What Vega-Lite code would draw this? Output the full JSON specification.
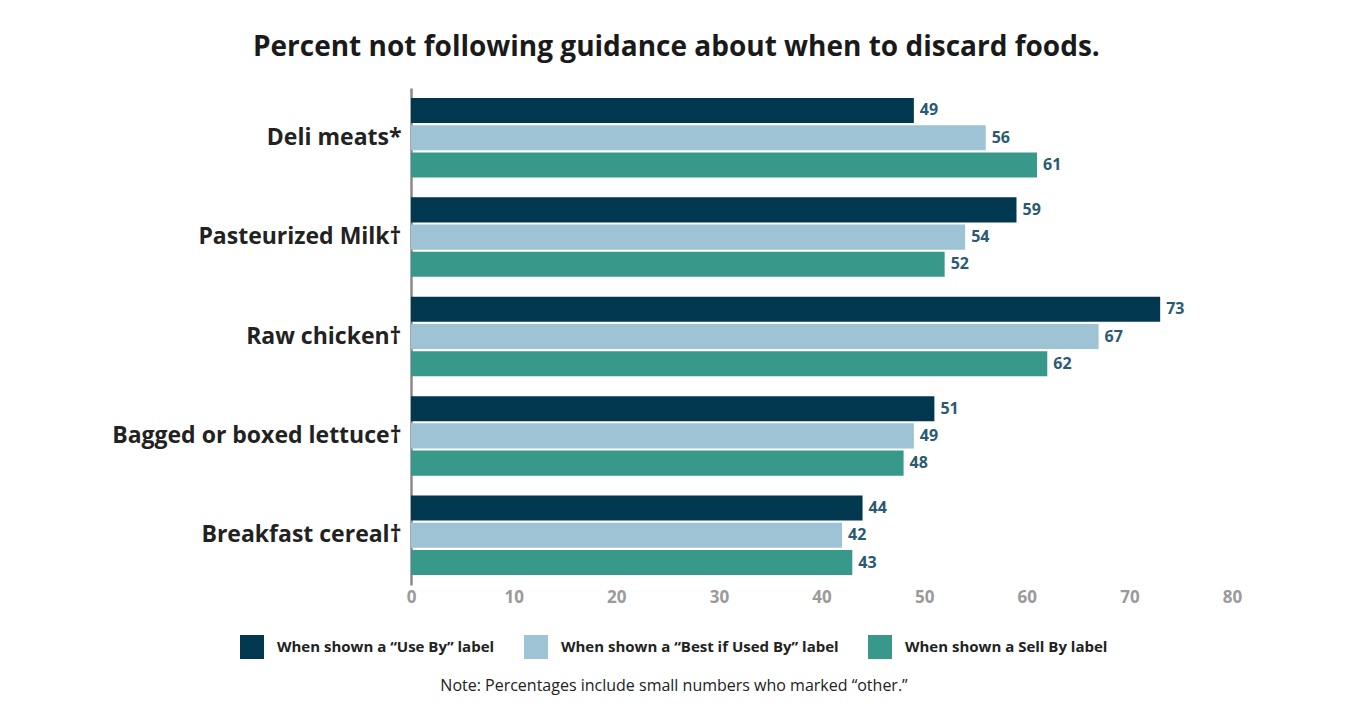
{
  "$schema": "https://vega.github.io/schema/vega-lite/v6.json",
  "width": 821,
  "height": 497,
  "padding": {"left": 111, "top": 34, "right": 10, "bottom": 5},
  "background": "white",
  "title": {
    "text": "Percent not following guidance about when to discard foods.",
    "font": "Open Sans",
    "fontSize": 28,
    "fontWeight": "bold",
    "color": "#1a1a1a",
    "anchor": "middle",
    "frame": "bounds",
    "offset": 26
  },
  "data": {
    "values": [
      {"food": "Deli meats*", "series": "When shown a “Use By” label", "value": 49},
      {"food": "Deli meats*", "series": "When shown a “Best if Used By” label", "value": 56},
      {"food": "Deli meats*", "series": "When shown a Sell By label", "value": 61},
      {"food": "Pasteurized Milk†", "series": "When shown a “Use By” label", "value": 59},
      {"food": "Pasteurized Milk†", "series": "When shown a “Best if Used By” label", "value": 54},
      {"food": "Pasteurized Milk†", "series": "When shown a Sell By label", "value": 52},
      {"food": "Raw chicken†", "series": "When shown a “Use By” label", "value": 73},
      {"food": "Raw chicken†", "series": "When shown a “Best if Used By” label", "value": 67},
      {"food": "Raw chicken†", "series": "When shown a Sell By label", "value": 62},
      {"food": "Bagged or boxed lettuce†", "series": "When shown a “Use By” label", "value": 51},
      {"food": "Bagged or boxed lettuce†", "series": "When shown a “Best if Used By” label", "value": 49},
      {"food": "Bagged or boxed lettuce†", "series": "When shown a Sell By label", "value": 48},
      {"food": "Breakfast cereal†", "series": "When shown a “Use By” label", "value": 44},
      {"food": "Breakfast cereal†", "series": "When shown a “Best if Used By” label", "value": 42},
      {"food": "Breakfast cereal†", "series": "When shown a Sell By label", "value": 43}
    ]
  },
  "encoding": {
    "y": {
      "field": "food",
      "type": "nominal",
      "sort": ["Deli meats*", "Pasteurized Milk†", "Raw chicken†", "Bagged or boxed lettuce†", "Breakfast cereal†"],
      "scale": {"paddingInner": 0.2, "paddingOuter": 0.1},
      "axis": {
        "title": null,
        "labelFont": "Open Sans",
        "labelFontSize": 23,
        "labelFontWeight": "bold",
        "labelColor": "#222222",
        "ticks": false,
        "domainColor": "#8a8a8a",
        "domainWidth": 2.5,
        "labelPadding": 10,
        "minExtent": 300,
        "maxExtent": 300,
        "labelLimit": 400
      }
    },
    "yOffset": {
      "field": "series",
      "type": "nominal",
      "sort": ["When shown a “Use By” label", "When shown a “Best if Used By” label", "When shown a Sell By label"],
      "scale": {"paddingInner": 0.08}
    },
    "x": {
      "field": "value",
      "type": "quantitative",
      "scale": {"domain": [0, 80], "nice": false},
      "axis": {
        "title": null,
        "values": [0, 10, 20, 30, 40, 50, 60, 70, 80],
        "grid": false,
        "domain": false,
        "ticks": false,
        "labelFlush": false,
        "labelFont": "Open Sans",
        "labelFontSize": 17,
        "labelFontWeight": "bold",
        "labelColor": "#9a9a9a",
        "labelPadding": 4
      }
    }
  },
  "layer": [
    {
      "mark": {"type": "bar"},
      "encoding": {
        "color": {
          "field": "series",
          "type": "nominal",
          "sort": ["When shown a “Use By” label", "When shown a “Best if Used By” label", "When shown a Sell By label"],
          "scale": {
            "domain": ["When shown a “Use By” label", "When shown a “Best if Used By” label", "When shown a Sell By label"],
            "range": ["#02384f", "#9dc3d4", "#38998a"]
          },
          "legend": {
            "orient": "none",
            "legendX": -171,
            "legendY": 547,
            "direction": "horizontal",
            "columns": 3,
            "title": "Note: Percentages include small numbers who marked “other.”",
            "titleOrient": "bottom",
            "titleAnchor": "middle",
            "titleFont": "Open Sans",
            "titleFontWeight": "normal",
            "titleFontSize": 16,
            "titleColor": "#222222",
            "titlePadding": 19,
            "titleLimit": 1000,
            "symbolType": "square",
            "symbolSize": 576,
            "symbolStrokeWidth": 0,
            "symbolOpacity": 1,
            "labelFont": "Open Sans",
            "labelFontSize": 15,
            "labelFontWeight": "bold",
            "labelColor": "#222222",
            "labelOffset": 13,
            "labelLimit": 400,
            "columnPadding": 29
          }
        }
      }
    },
    {
      "mark": {
        "type": "text",
        "align": "left",
        "baseline": "middle",
        "dx": 6,
        "font": "Open Sans",
        "fontSize": 16,
        "fontWeight": "bold",
        "color": "#2a5a72"
      },
      "encoding": {"text": {"field": "value", "type": "quantitative"}}
    }
  ],
  "config": {"view": {"stroke": null}}
}
